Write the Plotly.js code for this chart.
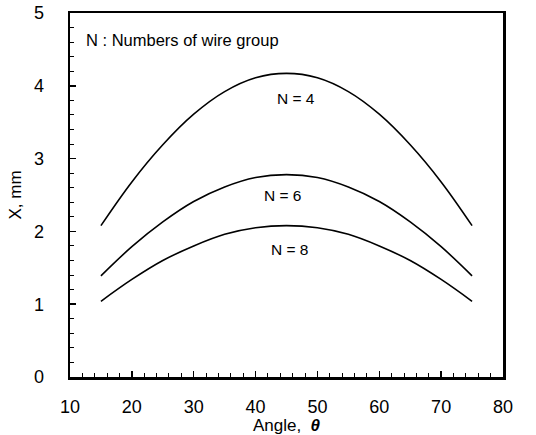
<!DOCTYPE html>
<html><head><meta charset="utf-8">
<script src="https://cdn.plot.ly/plotly-3.0.1.min.js"></script>
<style>body{margin:0;background:#fff}#c{width:536px;height:435px}</style>
</head><body><div id="c"></div>
<script>
const angles = [15,20,25,30,35,40,45,50,55,60,65,70,75];
const xN4 = [2.08,2.68,3.19,3.61,3.92,4.11,4.17,4.11,3.92,3.61,3.19,2.68,2.08];
const xN6 = [1.39,1.79,2.13,2.41,2.61,2.74,2.78,2.74,2.61,2.41,2.13,1.79,1.39];
const xN8 = [1.04,1.34,1.60,1.80,1.96,2.05,2.08,2.05,1.96,1.80,1.60,1.34,1.04];
const seriesNames = ["N = 4","N = 6","N = 8"];
const labelPos = [[46.5,3.83],[44.4,2.49],[45.5,1.75]];
const font = "Liberation Sans, Arial, sans-serif";
const ln = {color:'#000', width:1.6, shape:'spline'};
const traces = [xN4,xN6,xN8].map((y,i)=>({x:angles,y:y,mode:'lines',line:ln,name:seriesNames[i],hoverinfo:'skip'}));
const ann = seriesNames.map((t,i)=>({x:labelPos[i][0],y:labelPos[i][1],xref:'x',yref:'y',text:t,showarrow:false,font:{family:font,size:15.5,color:'#000'}}));
ann.push({x:12.3,y:4.63,xref:'x',yref:'y',xanchor:'left',text:'N : Numbers of wire group',showarrow:false,font:{family:font,size:16.5,color:'#000'}});
const axBase = {showgrid:false,zeroline:false,showline:true,linecolor:'#000',linewidth:2.5,mirror:true,ticks:'inside',ticklen:6,tickwidth:1.5,tickcolor:'#000',tickfont:{family:font,size:18,color:'#000'},
  minor:{ticks:'inside',ticklen:4,tickwidth:1,tickcolor:'#000'}};
Plotly.newPlot('c',traces,{
  width:536,height:435,
  margin:{l:70,r:33,t:13,b:58},
  paper_bgcolor:'#fff',plot_bgcolor:'#fff',showlegend:false,
  xaxis:Object.assign({},axBase,{range:[10,80],dtick:10,tick0:10,ticklabelstandoff:12,minor:Object.assign({},axBase.minor,{dtick:2}),
    title:{text:'Angle,  <b><i>θ</i></b>',font:{family:font,size:17,color:'#000'},standoff:4}}),
  yaxis:Object.assign({},axBase,{range:[0,5],dtick:1,ticklabelstandoff:20,minor:Object.assign({},axBase.minor,{dtick:0.2}),
    title:{text:'X, mm',font:{family:font,size:17,color:'#000'},standoff:8}}),
  annotations:ann
},{staticPlot:true});
</script></body></html>
